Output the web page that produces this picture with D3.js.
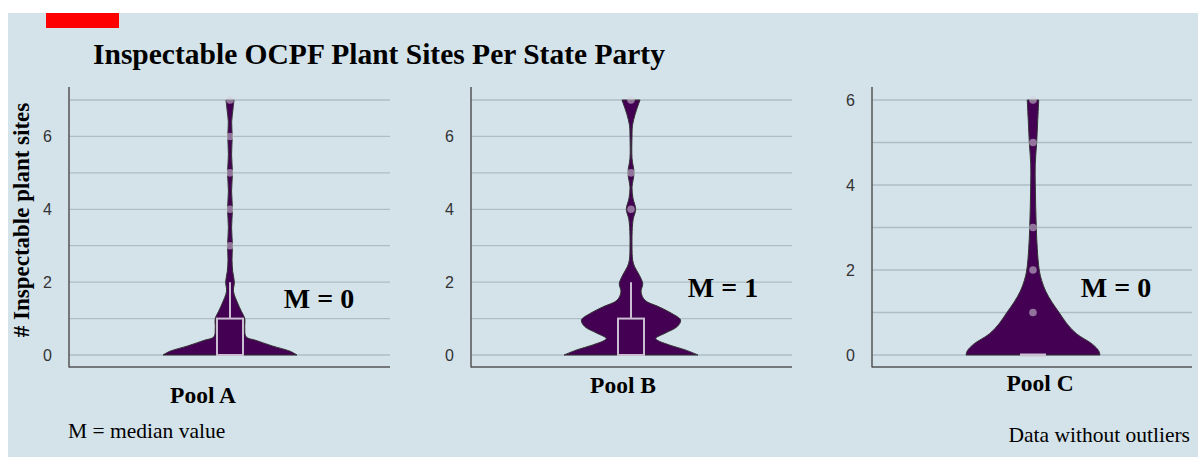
<!DOCTYPE html>
<html>
<head>
<meta charset="utf-8">
<script src="https://d3js.org/d3.v7.min.js"></script>
<style>
  body { margin: 0; background: #ffffff; }
  svg { display: block; }
</style>
</head>
<body>
<script>
'use strict';

// pools and summary values
const pools = ["Pool A", "Pool B", "Pool C"];
const medians = [0, 1, 0];
const yTops = [7, 7, 6];
const yTicks = [0, 2, 4, 6];

// violin outlines: value levels and relative density (1 = widest)
const levelsA = [0, 0.1, 0.25, 0.4, 0.5, 0.75, 1, 1.2, 1.4, 1.75, 2, 2.3, 2.6, 3, 3.5, 4, 4.5, 5, 5.5, 6, 6.4, 6.75, 7];
const densityA = [1, 0.9, 0.63, 0.39, 0.24, 0.22, 0.22, 0.17, 0.12, 0.052, 0.065, 0.04, 0.03, 0.036, 0.024, 0.036, 0.024, 0.036, 0.024, 0.033, 0.025, 0.045, 0.06];

const levelsB = [0, 0.14, 0.27, 0.41, 0.46, 0.6, 0.78, 0.96, 1.14, 1.32, 1.5, 1.73, 1.96, 2.19, 2.42, 2.6, 3, 3.5, 3.75, 4, 4.3, 4.6, 5, 5.4, 6, 6.3, 6.6, 6.85, 7];
const densityB = [1, 0.81, 0.58, 0.39, 0.37, 0.51, 0.69, 0.74, 0.61, 0.42, 0.21, 0.15, 0.175, 0.125, 0.055, 0.025, 0.015, 0.02, 0.035, 0.07, 0.03, 0.015, 0.045, 0.015, 0.015, 0.022, 0.06, 0.105, 0.135];

const levelsC = [0, 0.1, 0.25, 0.5, 0.75, 1, 1.25, 1.5, 1.75, 2, 2.5, 3, 3.5, 4, 4.5, 5, 5.5, 6];
const densityC = [1, 0.98, 0.89, 0.65, 0.5, 0.39, 0.28, 0.19, 0.13, 0.093, 0.064, 0.049, 0.04, 0.034, 0.034, 0.055, 0.07, 0.086];

// box plots: [q1, q3, upper whisker]
const boxA = [0, 1, 2];
const boxB = [0, 1, 2];
const boxC = [0, 0, 0];

// individual points shown above the box
const pointsA = [3, 4, 5, 6, 7];
const pointsB = [4, 5, 7];
const pointsC = [1, 2, 3, 5, 6];

(function () {

  let svgContainer = "";

  const violinColor = "#440154";
  const panelBg = "#d4e3ea";
  const serif = "'Liberation Serif', 'Times New Roman', serif";
  const sans = "'Liberation Sans', Arial, sans-serif";

  window.onload = function () {
    svgContainer = d3.select('body')
      .append('svg')
      .attr('width', 1198)
      .attr('height', 457);

    svgContainer.append('rect')
      .attr('x', 8).attr('y', 13)
      .attr('width', 1190).attr('height', 444)
      .attr('fill', panelBg);

    svgContainer.append('rect')
      .attr('x', 46).attr('y', 13)
      .attr('width', 73).attr('height', 15)
      .attr('fill', '#ff0000');

    let panels = [
      { left: 69, right: 390, cx: 230, labelX: 203, labelY: 403, mX: 319, mY: 308,
        levels: levelsA, density: densityA, box: boxA, points: pointsA },
      { left: 471, right: 792, cx: 631, labelX: 623, labelY: 393, mX: 723, mY: 297,
        levels: levelsB, density: densityB, box: boxB, points: pointsB },
      { left: 872, right: 1192, cx: 1033, labelX: 1040, labelY: 391, mX: 1116, mY: 297,
        levels: levelsC, density: densityC, box: boxC, points: pointsC }
    ];

    panels.forEach((p, i) => drawPanel(p, i));

    makeLabels();
  }

  function drawPanel(p, i) {
    let g = svgContainer.append('g');

    // y scale for this pool
    let yScale = d3.scaleLinear()
      .domain([0, yTops[i]])
      .range([355, 100]);

    // half width of the violin
    let wScale = d3.scaleLinear()
      .domain([0, 1])
      .range([0, 67]);

    // grid lines every 1
    g.selectAll('.grid')
      .data(d3.range(0, yTops[i] + 1))
      .enter()
      .append('line')
      .attr('x1', p.left)
      .attr('x2', p.right)
      .attr('y1', d => yScale(d))
      .attr('y2', d => yScale(d))
      .attr('stroke', '#aebcc6')
      .attr('stroke-width', 1.3);

    // y axis tick labels
    let yAxis = d3.axisLeft(yScale)
      .tickValues(yTicks)
      .tickFormat(d3.format('d'))
      .tickSize(0)
      .tickPadding(17);
    let ax = g.append('g')
      .attr('transform', 'translate(' + p.left + ', 0)')
      .call(yAxis);
    ax.select('.domain').remove();
    ax.selectAll('text')
      .style('font-family', sans)
      .style('font-size', '16px')
      .attr('fill', '#333333');

    // axis lines
    g.append('line')
      .attr('x1', p.left).attr('x2', p.left)
      .attr('y1', 87).attr('y2', 367.5)
      .attr('stroke', '#555555').attr('stroke-width', 1.5);
    g.append('line')
      .attr('x1', p.left).attr('x2', p.right)
      .attr('y1', 367).attr('y2', 367)
      .attr('stroke', '#555555').attr('stroke-width', 1.5);

    // violin
    let rows = p.levels.map((v, k) => ({ v: v, d: p.density[k] }));
    let area = d3.area()
      .curve(d3.curveCatmullRom)
      .y(d => yScale(d.v))
      .x0(d => p.cx - wScale(d.d))
      .x1(d => p.cx + wScale(d.d));
    g.append('path')
      .datum(rows)
      .attr('d', area)
      .attr('fill', violinColor)
      .attr('stroke', '#333333')
      .attr('stroke-width', 1);

    // box and whisker
    let box = p.box;
    g.append('line')
      .attr('x1', p.cx).attr('x2', p.cx)
      .attr('y1', yScale(box[1])).attr('y2', yScale(box[2]))
      .attr('stroke', '#c9bfd0').attr('stroke-width', 2);
    if (box[1] > box[0]) {
      g.append('rect')
        .attr('x', p.cx - 13)
        .attr('width', 26)
        .attr('y', yScale(box[1]))
        .attr('height', yScale(box[0]) - yScale(box[1]))
        .attr('fill', violinColor)
        .attr('stroke', '#c9bfd0')
        .attr('stroke-width', 2);
    } else {
      g.append('line')
        .attr('x1', p.cx - 13).attr('x2', p.cx + 13)
        .attr('y1', yScale(box[0])).attr('y2', yScale(box[0]))
        .attr('stroke', '#c9bfd0').attr('stroke-width', 3);
    }

    // points
    g.selectAll('.dot')
      .data(p.points)
      .enter()
      .append('circle')
      .attr('cx', p.cx)
      .attr('cy', d => yScale(d))
      .attr('r', 3.8)
      .attr('fill', '#d6d0da')
      .style('opacity', 0.55);

    // pool label
    g.append('text')
      .attr('x', p.labelX)
      .attr('y', p.labelY)
      .attr('text-anchor', 'middle')
      .style('font-family', serif)
      .style('font-weight', 'bold')
      .style('font-size', '23.5px')
      .text(pools[i]);

    // median label
    g.append('text')
      .attr('x', p.mX)
      .attr('y', p.mY)
      .attr('text-anchor', 'middle')
      .style('font-family', serif)
      .style('font-weight', 'bold')
      .style('font-size', '28px')
      .text('M = ' + medians[i]);
  }

  // title, axis label and notes
  function makeLabels() {
    svgContainer.append('text')
      .attr('x', 93)
      .attr('y', 64)
      .style('font-family', serif)
      .style('font-weight', 'bold')
      .style('font-size', '29.5px')
      .text('Inspectable OCPF Plant Sites Per State Party');

    svgContainer.append('text')
      .attr('transform', 'translate(29, 220)rotate(-90)')
      .attr('text-anchor', 'middle')
      .style('font-family', serif)
      .style('font-weight', 'bold')
      .style('font-size', '23px')
      .text('# Inspectable plant sites');

    svgContainer.append('text')
      .attr('x', 68)
      .attr('y', 438)
      .style('font-family', serif)
      .style('font-size', '21.5px')
      .text('M = median value');

    svgContainer.append('text')
      .attr('x', 1190)
      .attr('y', 442)
      .attr('text-anchor', 'end')
      .style('font-family', serif)
      .style('font-size', '21.5px')
      .text('Data without outliers');
  }

})();
</script>
</body>
</html>
